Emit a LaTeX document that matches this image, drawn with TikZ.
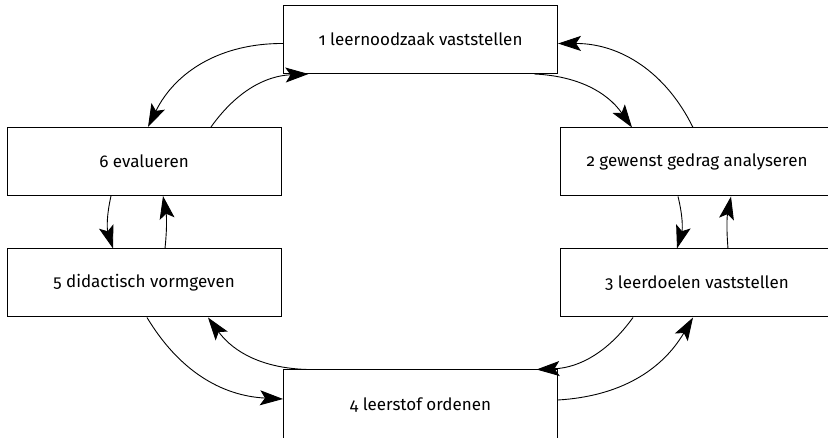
\documentclass[tikz,border=0pt]{standalone}
\usepackage{fontspec}
\setmainfont{Fira Sans}[Numbers=OldStyle]
\usetikzlibrary{arrows.meta}

\begin{document}
\begin{tikzpicture}[x=1pt, y=1pt,
    stap/.style={rectangle, draw, line width=1pt, minimum width=274pt,
                 minimum height=68pt, align=center, inner sep=0pt,
                 font=\fontsize{17}{20}\selectfont},
    arr/.style={-{Stealth[length=23pt, width=15pt, inset=5pt]}, line width=0.9pt},
  ]
  \useasboundingbox (0,0) rectangle (828,438);
  \clip (0,0) rectangle (828,438);

  % Top: stap 1
  \node[stap] (noodzaak) at (420.5, 398.5) {1 leernoodzaak vaststellen};

  % Right column: stap 2 and 3
  \node[stap] (gedrag) at (697, 276) {2 gewenst gedrag analyseren};
  \node[stap] (doelen) at (697, 155) {3 leerdoelen vaststellen};

  % Bottom: stap 4
  \node[stap, minimum height=70pt] (leerstof) at (420.5, 33) {4 leerstof ordenen};

  % Left column: stap 5 and 6
  \node[stap] (vorm) at (144, 155) {5 didactisch vormgeven};
  \node[stap] (eval) at (144, 276.5) {6 evalueren};

  % Edges
  \draw[arr] ([yshift=-4pt]noodzaak.west) to[bend right=32] ([xshift=4pt]eval.north);
  \draw[arr] ([xshift=67pt]eval.north) to[bend left=26] ([xshift=-112pt]noodzaak.south);
  \draw[arr] ([xshift=114pt]noodzaak.south) to[bend left=26] ([xshift=-65pt]gedrag.north);
  \draw[arr] ([xshift=-4pt]gedrag.north) to[bend right=32] ([yshift=-4pt]noodzaak.east);
  \draw[arr] ([xshift=-19pt]gedrag.south) to[bend left=15] ([xshift=-20pt]doelen.north);
  \draw[arr] ([xshift=31pt]doelen.north) to[bend left=8] ([xshift=34pt]gedrag.south);
  \draw[arr] ([xshift=-33pt]eval.south) to[bend right=15] ([xshift=-31pt]vorm.north);
  \draw[arr] ([xshift=21pt]vorm.north) to[bend right=8] ([xshift=19pt]eval.south);
  \draw[arr] ([xshift=3pt]vorm.south) to[bend right=28] ([yshift=6pt]leerstof.west);
  \draw[arr] ([xshift=-113pt]leerstof.north) to[bend left=26] ([xshift=64pt]vorm.south);
  \draw[arr] ([xshift=-64pt]doelen.south) to[bend left=26] ([xshift=116pt]leerstof.north);
  \draw[arr] ([yshift=5pt]leerstof.east) to[bend right=28] ([xshift=-4pt]doelen.south);

\end{tikzpicture}
\end{document}
